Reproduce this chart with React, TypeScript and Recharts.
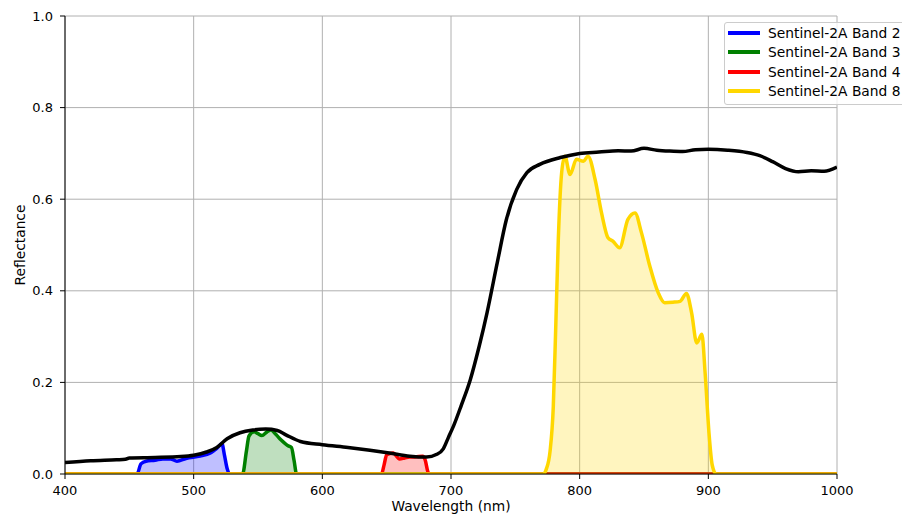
import {
  ComposedChart,
  Line,
  Area,
  XAxis,
  YAxis,
  CartesianGrid,
  Legend,
} from 'recharts'

// vegetation reflectance spectrum
const vegNm = [
  400, 420, 440, 447, 450, 470, 490, 500, 510, 518, 526, 536, 546, 556, 565, 572, 583, 600, 620, 637,
  652, 668, 681, 689, 694, 698, 702, 708, 715, 722, 728, 736, 743, 751, 759, 769, 785, 800, 815, 830,
  840, 850, 860, 870, 880, 890, 900, 915, 930, 940, 950, 960, 970, 980, 990, 1000,
]
const vegRefl = [
  0.025, 0.029, 0.031, 0.032, 0.035, 0.036, 0.038, 0.041, 0.048, 0.058, 0.077, 0.09, 0.096, 0.098, 0.095,
  0.085, 0.071, 0.064, 0.058, 0.052, 0.046, 0.039, 0.037, 0.043, 0.055, 0.08, 0.105, 0.15, 0.206, 0.28,
  0.352, 0.462, 0.555, 0.621, 0.658, 0.676, 0.691, 0.7, 0.703, 0.706, 0.705, 0.711, 0.707, 0.705, 0.704,
  0.708, 0.709, 0.707, 0.702, 0.695, 0.682, 0.667, 0.66, 0.662, 0.661, 0.67,
]

// band responses weighted by reflectance
const b2Nm = [400, 456, 459, 463, 470, 476, 482, 487, 494, 505, 513, 518, 522, 524, 526, 528, 1000]
const b2Val = [0, 0, 0.022, 0.028, 0.03, 0.033, 0.033, 0.028, 0.034, 0.039, 0.046, 0.056, 0.066, 0.04, 0.012, 0, 0]

const b3Nm = [400, 538, 541, 543, 547, 550, 553, 557, 560, 564, 568, 573, 576, 578, 580, 1000]
const b3Val = [0, 0, 0.05, 0.083, 0.092, 0.088, 0.084, 0.092, 0.096, 0.086, 0.074, 0.062, 0.058, 0.03, 0, 0]

const b4Nm = [400, 646, 648, 650, 655, 660, 664, 668, 672, 678, 680, 682, 683, 1000]
const b4Val = [0, 0, 0.02, 0.042, 0.046, 0.033, 0.035, 0.037, 0.037, 0.039, 0.03, 0.005, 0, 0]

const b8Nm = [
  400, 772, 774, 777, 779.5, 781.5, 783.4, 786, 788.5, 792.5, 797.5, 803, 806.5, 812, 817, 822, 826, 831,
  837.5, 843, 848, 854.5, 861, 866, 872.5, 878, 883, 887, 891, 895, 897.5, 900.5, 903, 906, 1000,
]
const b8Val = [
  0, 0, 0.01, 0.05, 0.147, 0.33, 0.512, 0.658, 0.694, 0.654, 0.687, 0.683, 0.694, 0.643, 0.57, 0.516, 0.508,
  0.494, 0.556, 0.57, 0.527, 0.454, 0.396, 0.374, 0.375, 0.377, 0.394, 0.352, 0.286, 0.305, 0.221, 0.09, 0.02,
  0, 0,
]

const xTicks = [400, 500, 600, 700, 800, 900, 1000]
const yTicks = [0, 0.2, 0.4, 0.6, 0.8, 1.0]

const toPoints = (nm: number[], vals: number[]) => nm.map((x, i) => ({ nm: x, r: vals[i] }))

const bands = [
  { name: 'Sentinel-2A Band 2', color: '#0000ff', data: toPoints(b2Nm, b2Val) },
  { name: 'Sentinel-2A Band 3', color: '#008000', data: toPoints(b3Nm, b3Val) },
  { name: 'Sentinel-2A Band 4', color: '#ff0000', data: toPoints(b4Nm, b4Val) },
  { name: 'Sentinel-2A Band 8', color: '#ffd700', data: toPoints(b8Nm, b8Val) },
]

const FONT = '"DejaVu Sans", sans-serif'

function BandLegend({ payload }: any) {
  const items = (payload || []).filter((p: any) => p.type !== 'none')
  return (
    <div
      style={{
        background: 'rgba(255,255,255,0.8)',
        border: '1px solid #cccccc',
        borderRadius: 3,
        padding: '0px 30px 3px 3px',
        fontFamily: FONT,
        fontSize: 13.8,
        color: '#000',
        whiteSpace: 'nowrap',
      }}
    >
      {items.map((p: any) => (
        <div key={p.value} style={{ display: 'flex', alignItems: 'center', height: 19.5 }}>
          <span style={{ display: 'inline-block', width: 32, height: 4, background: p.color, marginRight: 8 }} />
          <span>{p.value}</span>
        </div>
      ))}
    </div>
  )
}

export default function App() {
  return (
    <div style={{ position: 'absolute', left: 0, top: 0, width: 902, height: 514, overflow: 'hidden', background: '#fff' }}>
      <ComposedChart width={902} height={514} margin={{ top: 16, right: 65, bottom: 0, left: 0 }}>
        <CartesianGrid stroke="#b0b0b0" strokeWidth={1} />
        <XAxis
          dataKey="nm"
          type="number"
          domain={[400, 1000]}
          ticks={xTicks}
          allowDataOverflow
          height={40}
          tickSize={5}
          tickMargin={7}
          axisLine={{ stroke: '#000' }}
          tickLine={{ stroke: '#000' }}
          tick={{ fill: '#000', fontSize: 13, fontFamily: FONT }}
          label={{ value: 'Wavelength (nm)', position: 'insideBottom', offset: 3, fill: '#000', fontSize: 13.8, fontFamily: FONT }}
        />
        <YAxis
          type="number"
          domain={[0, 1]}
          ticks={yTicks}
          allowDataOverflow
          width={65}
          tickSize={5}
          tickMargin={7}
          tickFormatter={(v: number) => v.toFixed(1)}
          axisLine={{ stroke: '#000' }}
          tickLine={{ stroke: '#000' }}
          tick={{ fill: '#000', fontSize: 13, fontFamily: FONT }}
          label={{
            value: 'Reflectance',
            angle: -90,
            position: 'insideLeft',
            offset: 20,
            fill: '#000',
            fontSize: 13.8,
            fontFamily: FONT,
            style: { textAnchor: 'middle' },
          }}
        />
        {/* top and right spines */}
        <XAxis xAxisId="top" orientation="top" type="number" domain={[400, 1000]} height={0} tick={false} tickLine={false} axisLine={{ stroke: '#000' }} />
        <YAxis yAxisId="right" orientation="right" type="number" domain={[0, 1]} width={0} tick={false} tickLine={false} axisLine={{ stroke: '#000' }} />

        <Line
          data={toPoints(vegNm, vegRefl)}
          dataKey="r"
          type="monotone"
          stroke="#000"
          strokeWidth={3.5}
          dot={false}
          legendType="none"
          isAnimationActive={false}
        />
        {bands.map((b) => (
          <Area
            key={b.name}
            name={b.name}
            data={b.data}
            dataKey="r"
            type="monotone"
            baseValue={0}
            stroke={b.color}
            strokeWidth={3.5}
            fill={b.color}
            fillOpacity={0.25}
            strokeLinejoin="round"
            isAnimationActive={false}
          />
        ))}
        <Legend
          layout="vertical"
          align="center"
          verticalAlign="middle"
          content={<BandLegend />}
          wrapperStyle={{ top: 22, left: 724, width: 'auto', height: 'auto' }}
        />
      </ComposedChart>
    </div>
  )
}
